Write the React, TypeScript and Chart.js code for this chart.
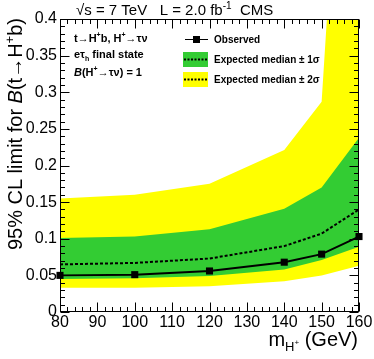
import { useEffect, useRef } from 'react';
import { Chart, registerables } from 'chart.js';

Chart.register(...registerables);

// Data
const masses = [80, 100, 120, 140, 150, 160];
const observed = [0.050, 0.051, 0.056, 0.068, 0.079, 0.103];
const expectedMedian = [0.065, 0.067, 0.073, 0.090, 0.107, 0.140];
const minus1Sigma = [0.045, 0.046, 0.049, 0.058, 0.071, 0.089];
const plus1Sigma = [0.101, 0.103, 0.113, 0.141, 0.170, 0.238];
const minus2Sigma = [0.033, 0.033, 0.035, 0.042, 0.050, 0.063];
const plus2Sigma = [0.155, 0.160, 0.175, 0.221, 0.287, 1.09];

const FONT = '"Liberation Sans", Arial, Helvetica, sans-serif';
const GREEN = '#33cc33';
const YELLOW = '#ffff00';

type Seg = { t: string; size: number; bold?: boolean; italic?: boolean; dy?: number };

function segFont(s: Seg) {
  return `${s.italic ? 'italic ' : ''}${s.bold ? 'bold ' : ''}${s.size}px ${FONT}`;
}

function richWidth(ctx: CanvasRenderingContext2D, segs: Seg[]) {
  let w = 0;
  for (const s of segs) {
    ctx.font = segFont(s);
    w += ctx.measureText(s.t).width;
  }
  return w;
}

function drawRich(ctx: CanvasRenderingContext2D, x: number, y: number, segs: Seg[], align: 'left' | 'right' = 'left') {
  ctx.textAlign = 'left';
  ctx.textBaseline = 'alphabetic';
  let cx = align === 'right' ? x - richWidth(ctx, segs) : x;
  for (const s of segs) {
    ctx.font = segFont(s);
    ctx.fillText(s.t, cx, y + (s.dy || 0));
    cx += ctx.measureText(s.t).width;
  }
}

const decoPlugin = {
  id: 'deco',
  afterDraw(chart: any) {
    const ctx: CanvasRenderingContext2D = chart.ctx;
    const { left, right, top, bottom } = chart.chartArea;
    const xs = chart.scales.x;
    const ys = chart.scales.y;
    ctx.save();
    ctx.fillStyle = '#000';
    ctx.strokeStyle = '#000';
    ctx.lineWidth = 1;
    const L = Math.round(left) + 0.5;
    const R = Math.round(right) - 0.5;
    const T = Math.round(top) + 0.5;
    const B = Math.round(bottom) - 0.5;
    ctx.strokeRect(L, T, R - L, B - T);

    // x ticks (major every 10, minor every 2)
    ctx.beginPath();
    for (let v = 80; v <= 160; v += 2) {
      const px = Math.round(xs.getPixelForValue(v)) + 0.5;
      const len = v % 10 === 0 ? 9 : 4.5;
      ctx.moveTo(px, B);
      ctx.lineTo(px, B - len);
      ctx.moveTo(px, T);
      ctx.lineTo(px, T + len);
    }
    // y ticks (major every 0.05, minor every 0.01)
    for (let i = 0; i <= 40; i++) {
      const py = Math.round(ys.getPixelForValue(i / 100)) + 0.5;
      const len = i % 5 === 0 ? 9 : 4.5;
      ctx.moveTo(L, py);
      ctx.lineTo(L + len, py);
      ctx.moveTo(R, py);
      ctx.lineTo(R - len, py);
    }
    ctx.stroke();

    // Top title
    drawRich(ctx, 76, 15, [
      { t: '√s = 7 TeV   L = 2.0 fb', size: 15 },
      { t: '-1', size: 10, dy: -6 },
      { t: '  CMS', size: 15 },
    ]);

    // Upper-left annotation
    drawRich(ctx, 74, 42, [
      { t: 't→H', size: 11, bold: true },
      { t: '+', size: 7, bold: true, dy: -5 },
      { t: 'b, H', size: 11, bold: true },
      { t: '+', size: 7, bold: true, dy: -5 },
      { t: '→τν', size: 11, bold: true },
    ]);
    drawRich(ctx, 74, 58, [
      { t: 'eτ', size: 11, bold: true },
      { t: 'h', size: 7, bold: true, dy: 3 },
      { t: ' final state', size: 11, bold: true },
    ]);
    drawRich(ctx, 74, 76, [
      { t: 'B', size: 11, bold: true, italic: true },
      { t: '(H', size: 11, bold: true },
      { t: '+', size: 7, bold: true, dy: -5 },
      { t: '→τν) = 1', size: 11, bold: true },
    ]);

    // Legend
    ctx.beginPath();
    ctx.moveTo(185, 39.5);
    ctx.lineTo(208, 39.5);
    ctx.stroke();
    ctx.fillRect(193, 36, 7, 7);
    drawRich(ctx, 214, 43, [{ t: 'Observed', size: 10, bold: true }]);

    ctx.fillStyle = GREEN;
    ctx.fillRect(183, 52, 25, 15);
    ctx.fillStyle = YELLOW;
    ctx.fillRect(183, 72, 25, 15);
    ctx.lineWidth = 2;
    ctx.setLineDash([2, 1.5]);
    ctx.beginPath();
    ctx.moveTo(184, 59.5);
    ctx.lineTo(207, 59.5);
    ctx.moveTo(184, 79.5);
    ctx.lineTo(207, 79.5);
    ctx.stroke();
    ctx.setLineDash([]);
    ctx.fillStyle = '#000';
    drawRich(ctx, 214, 63, [{ t: 'Expected median ± 1σ', size: 10, bold: true }]);
    drawRich(ctx, 214, 83, [{ t: 'Expected median ± 2σ', size: 10, bold: true }]);

    // Y title (rotated)
    ctx.save();
    ctx.translate(22, 18);
    ctx.rotate(-Math.PI / 2);
    drawRich(ctx, 0, 0, [
      { t: '95% CL limit for ', size: 20 },
      { t: 'B', size: 20, italic: true },
      { t: '(t→H', size: 20 },
      { t: '+', size: 13, dy: -8 },
      { t: 'b)', size: 20 },
    ], 'right');
    ctx.restore();

    // X title
    drawRich(ctx, 358, 346, [
      { t: 'm', size: 20 },
      { t: 'H', size: 13, dy: 5 },
      { t: '+', size: 8, dy: -1 },
      { t: ' (GeV)', size: 20 },
    ], 'right');

    ctx.restore();
  },
};

export default function App() {
  const ref = useRef<HTMLCanvasElement>(null);

  useEffect(() => {
    document.body.style.margin = '0';
    const pts = (arr: number[]) => masses.map((m, i) => ({ x: m, y: arr[i] }));
    Chart.defaults.font.family = FONT;
    const chart = new Chart(ref.current as HTMLCanvasElement, {
      type: 'line',
      data: {
        datasets: [
          {
            label: 'Observed',
            data: pts(observed),
            borderColor: '#000',
            borderWidth: 2,
            pointStyle: 'rect',
            pointRadius: 5,
            pointBackgroundColor: '#000',
            pointBorderColor: '#000',
            pointBorderWidth: 0,
            fill: false,
            order: 0,
            clip: false as any,
          },
          {
            label: 'Expected median',
            data: pts(expectedMedian),
            borderColor: '#000',
            borderWidth: 2,
            borderDash: [3, 2],
            pointRadius: 0,
            fill: false,
            order: 1,
          },
          {
            label: '+1 sigma',
            data: pts(plus1Sigma),
            borderColor: 'transparent',
            borderWidth: 0,
            backgroundColor: GREEN,
            pointRadius: 0,
            fill: '+1',
            order: 2,
          },
          {
            label: '-1 sigma',
            data: pts(minus1Sigma),
            borderColor: 'transparent',
            borderWidth: 0,
            pointRadius: 0,
            fill: false,
            order: 2,
          },
          {
            label: '+2 sigma',
            data: pts(plus2Sigma),
            borderColor: 'transparent',
            borderWidth: 0,
            backgroundColor: YELLOW,
            pointRadius: 0,
            fill: '+1',
            order: 4,
          },
          {
            label: '-2 sigma',
            data: pts(minus2Sigma),
            borderColor: 'transparent',
            borderWidth: 0,
            pointRadius: 0,
            fill: false,
            order: 4,
          },
        ],
      },
      options: {
        animation: false,
        responsive: false,
        devicePixelRatio: 1,
        layout: { padding: { top: 19, right: 15, left: 0, bottom: 0 } },
        plugins: {
          legend: { display: false },
          tooltip: { enabled: false },
          title: { display: false },
        },
        elements: { line: { tension: 0 } },
        scales: {
          x: {
            type: 'linear',
            min: 80,
            max: 160,
            ticks: {
              stepSize: 10,
              color: '#000',
              font: { size: 16 },
              padding: 1,
              maxRotation: 0,
              autoSkip: false,
            },
            grid: { display: false, drawTicks: false },
            border: { display: false },
            afterFit: (s: any) => {
              s.height = 47;
            },
          },
          y: {
            type: 'linear',
            min: 0,
            max: 0.4,
            ticks: {
              stepSize: 0.05,
              color: '#000',
              font: { size: 16 },
              padding: 3,
              autoSkip: false,
              callback: (v: any) => String(Math.round(Number(v) * 100) / 100),
            },
            grid: { display: false, drawTicks: false },
            border: { display: false },
            afterFit: (s: any) => {
              s.width = 60;
            },
          },
        },
      },
      plugins: [decoPlugin],
    });
    return () => chart.destroy();
  }, []);

  return (
    <div style={{ position: 'absolute', left: 0, top: 0, width: 374, height: 359 }}>
      <canvas ref={ref} width={374} height={359} />
    </div>
  );
}
